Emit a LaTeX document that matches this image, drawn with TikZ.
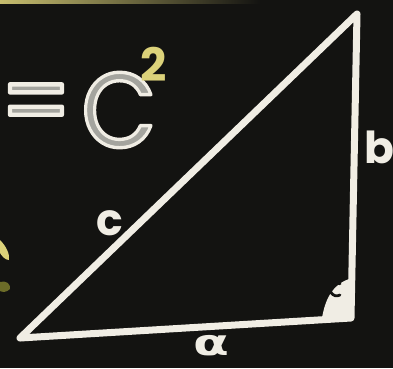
\documentclass[tikz,border=0pt]{standalone}
\usepackage{fontspec}
\setmainfont{Poppins}
\newfontfamily\greekfont{DejaVu Sans}
\definecolor{board}{HTML}{131311}
\definecolor{chalk}{HTML}{F0EDE4}
\definecolor{chalkgrey}{HTML}{A4A49E}
\definecolor{chalkyellow}{HTML}{DCD27A}
\definecolor{dimgreen}{HTML}{6C6C28}
\newcommand{\outlined}[1]{\special{pdf:literal direct 2 Tr 3.4 w 1 J 1 j 0.941 0.929 0.894 RG}#1\special{pdf:literal direct 0 Tr}}
\tikzset{
  chalkline/.style={draw=chalk, line width=7pt, line join=round, line cap=round},
  chalktext/.style={text=chalk, inner sep=0pt, font=\bfseries},
  outlinetext/.style={text=chalkgrey, inner sep=0pt},
}
\begin{document}
\begin{tikzpicture}[x=1pt,y=-1pt]
\fill[board] (0,0) rectangle (393,368);
\useasboundingbox (0,0) rectangle (393,368);
% yellow strip at top edge
\fill[left color=chalkyellow!90!black, right color=board] (0,0) rectangle (260,3.5);
% triangle
\coordinate (A) at (20,338);
\coordinate (B) at (357,14);
\coordinate (C) at (351,318);
\draw[chalkline] (A) -- (B) -- (C) -- cycle;
% right angle mark
\fill[chalk] (322,318) .. controls (325,300) and (332,285) .. (349,279) -- (C) -- cycle;
\draw[board, line width=2.8pt, line cap=round] (340,295) arc (60:300:6.5);
% labels
\node[chalktext, font=\bfseries\fontsize{44}{44}\selectfont] (lc) at (110,223) {c};
\node[chalktext, font=\bfseries\fontsize{44}{44}\selectfont, anchor=west] (lb) at (364,147) {b};
\node[chalktext, font=\greekfont\bfseries\fontsize{36}{36}\selectfont, xscale=1.45] (la) at (211,346) {α};
% formula
\node[outlinetext, font=\fontsize{80}{80}\selectfont, xscale=1.25, yscale=1.3] (eq) at (36,111) {\outlined{=}};
\node[outlinetext, font=\fontsize{106}{106}\selectfont, xscale=0.92] (cc) at (119,110) {\outlined{C}};
\node[text=chalkyellow, inner sep=0pt, font=\bfseries\fontsize{46}{46}\selectfont] (two) at (154,64) {2};
% cut-off marks at left edge
\fill[chalkyellow] (0,240) .. controls (6,246) and (10,254) .. (9,260) .. controls (5,260) and (2,256) .. (0,253) -- cycle;
\fill[dimgreen] (0,282) .. controls (6,280) and (11,284) .. (10,289) .. controls (6,293) and (2,292) .. (0,291) -- cycle;
\end{tikzpicture}
\end{document}
